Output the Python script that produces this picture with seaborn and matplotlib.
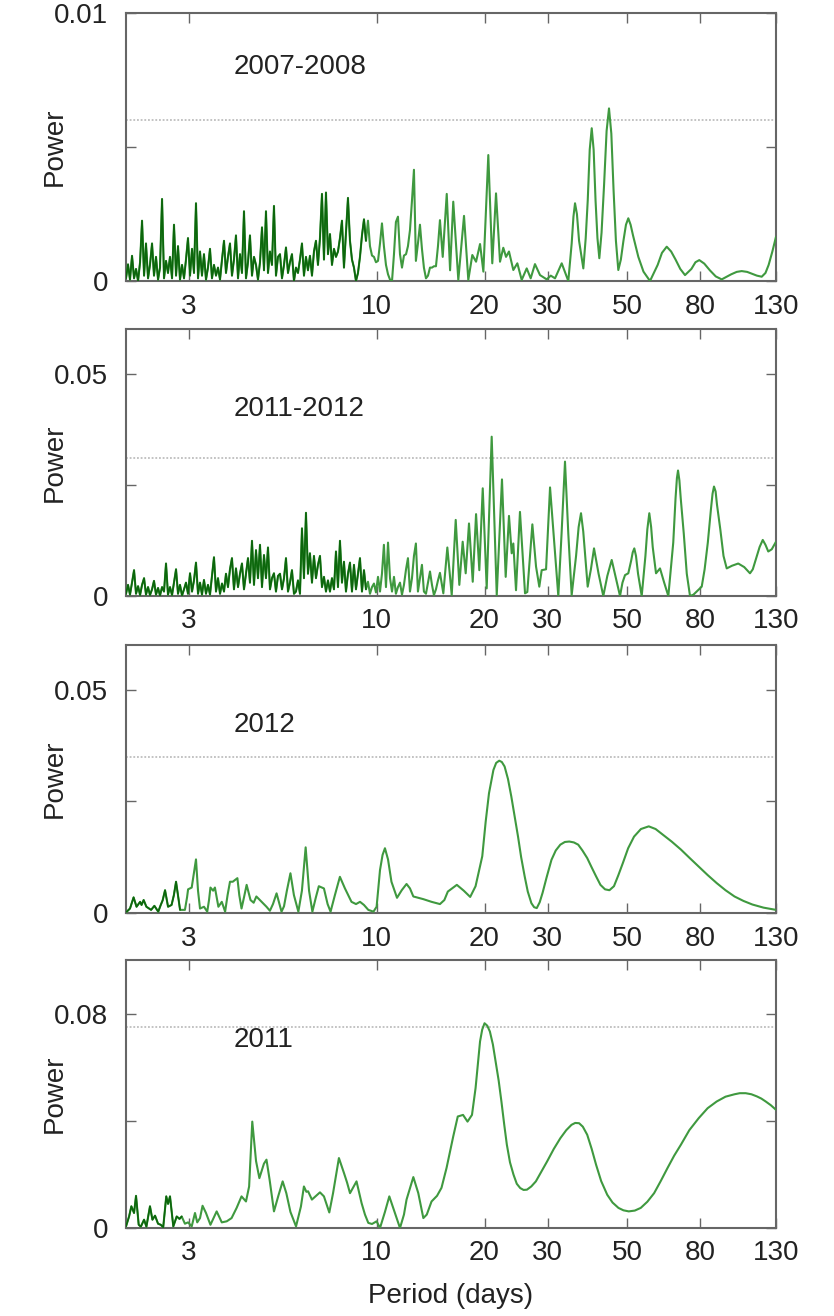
import numpy as np
import matplotlib
matplotlib.use("Agg")
import matplotlib.pyplot as plt
import matplotlib.transforms as mtransforms
from matplotlib.ticker import NullLocator
import seaborn as sns

sns.set_theme(style="ticks")
plt.rcParams["font.family"] = ["Liberation Sans", "DejaVu Sans"]

# ---------------- data (period in days, power in units of 1e-3) ----------------
grid_period = [2.000, 2.026, 2.052, 2.079, 2.106, 2.133, 2.161, 2.189, 2.217, 2.246,
               2.274, 2.304, 2.333, 2.364, 2.394, 2.425, 2.457, 2.488, 2.521, 2.553,
               2.586, 2.619, 2.653, 2.688, 2.722, 2.758, 2.793, 2.829, 2.866, 2.903,
               2.940, 2.978, 3.017, 3.056, 3.095, 3.135, 3.176, 3.217, 3.258, 3.300,
               3.343, 3.386, 3.430, 3.474, 3.519, 3.565, 3.611, 3.658, 3.705, 3.753,
               3.801, 3.850, 3.900, 3.950, 4.001, 4.053, 4.106, 4.159, 4.212, 4.267,
               4.322, 4.378, 4.434, 4.492, 4.550, 4.609, 4.668, 4.729, 4.790, 4.852,
               4.914, 4.978, 5.042, 5.107, 5.173, 5.240, 5.308, 5.377, 5.446, 5.517,
               5.588, 5.660, 5.733, 5.807, 5.882, 5.958, 6.035, 6.113, 6.192, 6.272,
               6.353, 6.435, 6.518, 6.603, 6.688, 6.774, 6.862, 6.951, 7.041, 7.132,
               7.224, 7.317, 7.412, 7.508, 7.605, 7.703, 7.803, 7.903, 8.006, 8.109,
               8.214, 8.320, 8.428, 8.537, 8.647, 8.759, 8.872, 8.987, 9.103, 9.221,
               9.340, 9.461, 9.583, 9.707, 9.832, 9.959, 10.09, 10.22, 10.35, 10.48,
               10.62, 10.76, 10.90, 11.04, 11.18, 11.32, 11.47, 11.62, 11.77, 11.92,
               12.08, 12.23, 12.39, 12.55, 12.71, 12.87, 13.04, 13.21, 13.38, 13.55,
               13.73, 13.91, 14.09, 14.27, 14.45, 14.64, 14.83, 15.02]

# Panel 1: 2007-2008
p1_dense_e3 = [0.1, 0.62, 0.05, 0.94, 0.1, 0.45, 0.0, 0.7, 2.25, 0.2,
               1.4, 0.1, 0.6, 1.4, 0.2, 0.9, 0.05, 0.5, 3.06, 0.1,
               0.75, 0.3, 0.9, 0.1, 2.1, 0.2, 1.3, 0.05, 0.6, 0.1,
               0.8, 1.6, 0.2, 1.2, 0.3, 2.9, 0.1, 1.1, 0.2, 1.0,
               0.05, 0.5, 1.2, 0.1, 0.6, 0.2, 0.5, 0.05, 0.8, 1.5,
               0.3, 0.9, 1.4, 0.2, 0.8, 1.7, 0.1, 1.0, 0.3, 2.6,
               0.1, 0.7, 1.7, 0.2, 0.9, 0.6, 0.05, 0.7, 2.0, 0.4,
               2.6, 0.3, 1.1, 0.6, 2.8, 0.2, 0.9, 1.0, 0.1, 0.6,
               1.25, 0.3, 0.7, 1.0, 0.0, 0.5, 0.3, 0.8, 1.4, 0.2,
               0.9, 0.4, 0.94, 0.2, 1.1, 1.5, 0.6, 1.6, 3.25, 0.8,
               3.3, 1.0, 1.75, 0.6, 1.2, 0.9, 1.1, 1.6, 2.25, 0.5,
               1.8, 3.1, 1.5, 0.8, 0.5, 0.0, 0.3, 0.9, 1.7, 2.3,
               1.5, 2.25, 1.3, 0.95, 0.9, 0.7, 0.75, 1.4, 2.15, 1.3,
               0.6, 0.25, 0.05, 0.0, 1.0, 2.2, 2.4, 1.0, 0.5, 0.95,
               1.0, 1.3, 1.9, 3.0, 4.15, 0.75, 1.4, 2.1, 1.2, 0.5,
               0.1, 0.2, 0.5, 0.5, 0.55, 0.55, 1.3, 2.27]
p1_tail_period = [15.29, 15.69, 16.03, 16.36, 16.90, 17.53, 18.02, 18.49, 18.94, 19.43,
                  19.85, 20.49, 21.02, 21.53, 22.09, 22.56, 22.96, 23.40, 24.06, 24.69,
                  25.39, 26.22, 26.90, 27.65, 28.56, 29.82, 30.6, 31.45, 32.83, 34.25,
                  35.0, 35.4, 35.76, 36.2, 36.7, 37.72, 38.3, 38.8, 39.3, 39.81,
                  40.3, 40.8, 41.3, 41.80, 42.4, 43.1, 43.8, 44.48, 45.15, 45.8,
                  46.5, 47.22, 48.0, 48.8, 49.6, 50.35, 51.1, 51.9, 53.70, 55.5,
                  57.88, 60.8, 62.5, 64.44, 66.3, 68.2, 70.3, 72.47, 75.5, 77.5,
                  79.43, 82.0, 85.0, 88.3, 91.73, 97.5, 101.0, 104.3, 108.0, 111.0,
                  115.0, 118.6, 121.5, 124.0, 127.0, 130.0]
p1_tail_e3 = [0.9, 3.25, 0.4, 2.96, 0.04, 2.43, 0.04, 0.97, 0.72, 1.38,
              0.35, 4.7, 0.66, 3.27, 0.72, 1.24, 0.9, 1.1, 0.41, 0.66,
              0.04, 0.47, 0.10, 0.63, 0.22, 0.06, 0.2, 0.10, 0.66, 0.0,
              1.4, 2.4, 2.9, 2.5, 1.5, 0.47, 1.6, 3.0, 4.9, 5.7,
              4.9, 3.0, 1.6, 0.85, 1.8, 3.6, 5.6, 6.44, 5.5, 3.4,
              1.5, 0.41, 0.8, 1.5, 2.1, 2.34, 2.1, 1.7, 0.9, 0.35,
              0.0, 0.6, 1.05, 1.28, 1.1, 0.8, 0.45, 0.22, 0.45, 0.7,
              0.78, 0.65, 0.4, 0.17, 0.06, 0.25, 0.34, 0.37, 0.34, 0.28,
              0.2, 0.16, 0.3, 0.6, 1.1, 1.65]

# Panel 2: 2011-2012
p2_dense_e3 = [0.5, 2.5, 0.3, 3.0, 5.8, 0.5, 2.2, 0.2, 2.5, 4.0,
               0.3, 2.0, 0.2, 1.5, 3.4, 0.3, 1.8, 0.1, 2.0, 1.0,
               7.3, 0.3, 2.0, 0.2, 3.0, 6.0, 0.5, 2.5, 0.1, 1.5,
               3.0, 0.5, 5.1, 1.0, 3.5, 7.5, 0.5, 3.0, 0.3, 3.6,
               0.5, 2.5, 0.3, 4.5, 8.7, 1.0, 4.0, 0.5, 2.8, 1.0,
               5.0, 2.0, 6.0, 8.5, 1.5, 6.2, 2.0, 5.0, 7.3, 1.5,
               5.0, 8.5, 3.0, 12.4, 2.5, 10.3, 4.0, 11.5, 2.0, 9.2,
               4.0, 10.9, 1.5, 4.0, 5.1, 1.0, 4.5, 5.0, 1.5, 4.0,
               8.5, 1.0, 3.0, 5.8, 0.5, 1.0, 3.5, 0.5, 15.2, 4.0,
               18.7, 5.0, 9.6, 3.0, 9.0, 4.0, 7.0, 9.0, 2.0, 4.3,
               1.0, 3.5, 1.0, 4.0, 1.5, 10.0, 2.0, 12.4, 3.0, 7.7,
               1.0, 5.0, 7.5, 1.0, 7.0, 1.5, 5.0, 8.5, 1.0, 5.8,
               1.5, 3.2, 0.5, 2.0, 2.8, 0.8, 4.3, 1.0, 5.0, 11.5,
               2.0, 12.0, 4.0, 1.0, 4.3, 0.5, 2.0, 3.0, 0.3, 2.5,
               6.0, 8.5, 1.0, 4.0, 9.0, 11.8, 1.0, 4.0, 7.0, 1.0,
               0.5, 3.0, 5.5, 2.5, 0.2, 1.5, 3.5, 5.2]
p2_tail_period = [15.35, 15.75, 16.20, 16.62, 17.01, 17.38, 17.72, 18.10, 18.54, 18.94,
                  19.34, 19.77, 20.28, 20.94, 21.63, 22.37, 22.91, 23.40, 23.81, 24.06,
                  24.48, 25.11, 25.94, 26.32, 27.19, 27.84, 28.43, 28.87, 29.69, 30.46,
                  31.3, 32.12, 32.8, 33.53, 34.25, 35.00, 36.0, 36.6, 37.16, 37.7,
                  38.79, 39.6, 40.40, 41.6, 42.88, 44.0, 45.26, 46.5, 47.74, 48.5,
                  49.30, 50.35, 51.3, 51.8, 52.33, 52.9, 53.6, 54.88, 56.2, 56.9,
                  57.62, 58.3, 58.9, 60.16, 61.72, 63.4, 65.11, 67.2, 68.2, 68.8,
                  69.29, 69.9, 70.5, 71.9, 73.3, 74.84, 76.5, 78.13, 80.68, 82.2,
                  83.9, 85.6, 86.5, 87.3, 88.2, 89.0, 90.9, 92.8, 94.73, 98.0,
                  102.0, 106.0, 110.0, 112.0, 114.5, 117.0, 119.4, 121.5, 123.7, 126.5,
                  130.0]
p2_tail_e3 = [0.6, 10.9, 0.2, 17.1, 2.5, 12.2, 5.1, 16.3, 3.2, 18.4,
              5.8, 24.2, 1.7, 35.8, 0.2, 26.2, 4.3, 18.0, 9.6, 11.8,
              1.3, 18.9, 0.6, 0.9, 16.1, 6.6, 2.1, 5.8, 6.0, 24.4,
              12.0, 0.0, 14.0, 30.2, 14.0, 0.2, 9.0, 15.5, 18.6, 14.5,
              2.1, 6.0, 10.7, 5.0, 0.0, 4.5, 8.1, 4.0, 0.0, 3.0,
              4.7, 5.1, 8.0, 9.8, 10.7, 9.0, 5.0, 0.0, 9.0, 15.0,
              18.6, 15.5, 11.0, 5.1, 6.2, 3.0, 0.0, 12.0, 22.0, 26.5,
              28.2, 26.0, 22.0, 14.0, 5.0, 0.0, 0.3, 1.0, 2.1, 6.0,
              12.0, 19.5, 23.0, 24.6, 23.5, 20.5, 15.0, 9.0, 6.2, 6.8,
              7.3, 6.5, 5.1, 6.0, 8.5, 11.0, 12.6, 11.5, 10.0, 10.5,
              12.2]

# Panel 3: 2012
p3_period = [2.01, 2.052, 2.10, 2.14, 2.19, 2.21, 2.24, 2.28, 2.35, 2.40,
             2.46, 2.50, 2.53, 2.57, 2.62, 2.68, 2.72, 2.758, 2.81, 2.83,
             2.92, 2.96, 2.98, 3.05, 3.095, 3.135, 3.176, 3.217, 3.30, 3.37,
             3.41, 3.44, 3.50, 3.54, 3.62, 3.70, 3.78, 3.84, 3.90, 3.97,
             4.03, 4.09, 4.14, 4.20, 4.267, 4.34, 4.45, 4.54, 4.62, 4.78,
             4.93, 5.04, 5.14, 5.26, 5.43, 5.517, 5.62, 5.75, 5.88, 6.05,
             6.19, 6.34, 6.48, 6.62, 6.77, 6.90, 7.13, 7.30, 7.44, 7.65,
             7.90, 8.16, 8.51, 8.76, 8.99, 9.22, 9.48, 9.80, 10.0, 10.22,
             10.39, 10.55, 10.76, 11.00, 11.40, 11.75, 12.12, 12.39, 12.66, 13.50,
             14.23, 15.02, 15.45, 15.8, 16.74, 17.5, 18.24, 18.88, 19.71, 20.15,
             20.58, 21.17, 21.55, 21.98, 22.35, 22.75, 23.25, 23.75, 24.25, 24.80,
             25.3, 25.88, 26.4, 27.02, 27.5, 27.97, 28.5, 29.03, 29.8, 30.74,
             31.6, 32.54, 33.5, 34.46, 35.5, 36.50, 37.5, 38.67, 39.8, 40.94,
             42.1, 43.36, 44.6, 45.92, 47.2, 48.63, 50.3, 52.24, 54.6, 57.41,
             60.0, 62.93, 66.5, 70.60, 74.7, 79.15, 83.8, 88.81, 94.0, 99.59,
             105.5, 111.7, 120.0, 130.0]
p3_power_e3 = [0.3, 1.0, 3.5, 1.4, 2.5, 1.8, 2.9, 1.4, 0.7, 1.6,
               0.3, 1.8, 2.8, 5.1, 1.4, 1.8, 4.0, 7.0, 2.5, 0.7,
               0.7, 3.5, 5.3, 5.7, 9.0, 12.0, 5.0, 1.0, 1.4, 0.3,
               3.0, 5.7, 5.0, 5.7, 1.4, 2.5, 0.3, 4.0, 7.0, 7.0,
               7.4, 7.8, 4.0, 1.0, 3.5, 6.3, 2.9, 2.3, 3.7, 2.5,
               1.4, 0.5, 2.0, 4.4, 0.3, 1.5, 5.0, 8.9, 4.0, 0.3,
               5.0, 14.7, 5.0, 0.3, 3.5, 6.0, 5.5, 2.0, 0.3, 4.0,
               8.1, 5.5, 2.5, 2.0, 2.5, 1.8, 0.7, 0.3, 1.4, 9.6,
               13.0, 14.5, 12.0, 7.0, 3.4, 5.1, 6.5, 5.5, 3.7, 3.1,
               2.5, 2.0, 2.9, 4.8, 6.3, 5.0, 3.6, 6.0, 12.7, 20.5,
               26.8, 32.0, 33.6, 34.1, 33.8, 32.8, 30.0, 26.1, 21.8, 17.1,
               12.5, 8.2, 4.8, 2.2, 1.3, 1.1, 2.4, 4.5, 8.0, 11.9,
               14.0, 15.3, 15.9, 16.0, 15.8, 15.3, 14.0, 12.3, 10.2, 8.2,
               6.3, 5.3, 5.1, 6.0, 8.4, 11.2, 14.5, 17.1, 18.8, 19.4,
               18.8, 17.5, 16.0, 14.2, 12.3, 10.4, 8.5, 6.7, 5.1, 3.7,
               2.7, 1.9, 1.2, 0.7]

# Panel 4: 2011
p4_period = [2.00, 2.04, 2.07, 2.106, 2.133, 2.17, 2.20, 2.246, 2.28, 2.333,
             2.37, 2.41, 2.457, 2.50, 2.54, 2.59, 2.62, 2.653, 2.71, 2.77,
             2.82, 2.86, 2.92, 2.98, 3.05, 3.115, 3.16, 3.217, 3.27, 3.343,
             3.44, 3.58, 3.70, 3.82, 3.94, 4.07, 4.20, 4.322, 4.41, 4.50,
             4.61, 4.71, 4.85, 4.93, 5.03, 5.173, 5.32, 5.47, 5.60, 5.75,
             5.96, 6.15, 6.27, 6.37, 6.44, 6.60, 6.95, 7.13, 7.38, 7.56,
             7.85, 8.11, 8.27, 8.43, 8.79, 9.08, 9.28, 9.48, 9.71, 10.0,
             10.22, 10.55, 10.85, 11.25, 11.62, 11.92, 12.12, 12.66, 13.07, 13.50,
             13.80, 14.23, 14.74, 15.17, 15.67, 16.36, 16.84, 17.42, 17.93, 18.45,
             18.88, 19.43, 19.7, 20.00, 20.35, 20.70, 21.1, 21.48, 21.9, 22.29,
             22.7, 23.08, 23.55, 24.09, 24.6, 25.15, 25.7, 26.26, 27.0, 27.81,
             28.8, 29.88, 31.2, 32.54, 33.8, 34.96, 35.8, 36.71, 37.6, 38.67,
             39.8, 40.94, 42.3, 43.98, 45.5, 47.26, 48.8, 50.49, 52.5, 54.54,
             56.9, 59.43, 62.0, 64.78, 67.6, 70.60, 74.5, 79.15, 83.8, 88.81,
             94.0, 99.59, 103.0, 107.0, 111.0, 115.0, 118.3, 121.7, 125.8, 130.0]
p4_power_e3 = [0.6, 4.3, 8.1, 5.6, 12.0, 1.2, 0.5, 3.1, 0.5, 8.1,
               3.1, 4.6, 1.6, 1.2, 0.3, 11.8, 9.0, 11.8, 0.6, 4.3,
               3.4, 4.3, 1.6, 2.1, 0.6, 5.6, 2.1, 3.7, 8.3, 5.6,
               1.2, 6.2, 2.1, 2.5, 3.7, 7.5, 11.8, 9.9, 15.5, 39.7,
               25.0, 18.6, 24.0, 25.5, 18.0, 6.2, 12.0, 17.4, 13.0, 6.0,
               0.6, 8.0, 15.5, 13.5, 13.7, 10.6, 13.3, 11.8, 5.8, 13.0,
               26.1, 20.5, 17.0, 13.0, 17.4, 9.3, 5.0, 1.9, 1.5, 2.5,
               0.0, 6.0, 11.8, 5.6, 0.0, 5.0, 10.6, 19.0, 13.0, 3.7,
               5.0, 9.9, 12.0, 15.0, 22.4, 34.2, 41.6, 42.2, 39.7, 42.2,
               52.2, 69.6, 74.0, 76.4, 75.5, 73.3, 68.5, 62.1, 55.0, 47.2,
               38.5, 31.1, 24.5, 19.9, 16.5, 14.9, 14.2, 14.3, 15.5, 17.4,
               21.0, 24.8, 29.5, 33.5, 36.5, 38.5, 39.2, 39.1, 37.8, 34.8,
               29.5, 23.6, 17.5, 12.4, 9.5, 7.5, 6.6, 6.2, 6.5, 7.5,
               9.8, 13.0, 17.5, 22.4, 27.0, 31.1, 36.5, 41.0, 44.7, 47.2,
               49.0, 49.9, 50.3, 50.3, 49.9, 49.1, 48.3, 47.2, 45.8, 44.1]

panel_labels = ["2007-2008", "2011-2012", "2012", "2011"]
signif_levels = [0.0060, 0.0309, 0.0350, 0.0751]
y_max = [0.01, 0.06, 0.06, 0.10]
y_ticks = [[0, 0.005, 0.01], [0, 0.025, 0.05], [0, 0.025, 0.05], [0, 0.04, 0.08]]
y_ticklabels = [["0", "", "0.01"], ["0", "", "0.05"], ["0", "", "0.05"], ["0", "", "0.08"]]
x_ticks = [3, 10, 20, 30, 50, 80, 130]
x_ticklabels = ["3", "10", "20", "30", "50", "80", "130"]
dense_limit = [9.4, 9.4, 2.9, 2.9]

series = [
    (grid_period + p1_tail_period, p1_dense_e3 + p1_tail_e3),
    (grid_period + p2_tail_period, p2_dense_e3 + p2_tail_e3),
    (p3_period, p3_power_e3),
    (p4_period, p4_power_e3),
]

# ---------------- figure ----------------
fig = plt.figure(figsize=(8.34, 13.16), dpi=100)
W, H = 834.0, 1316.0
left_px, right_px = 126, 776
tops = [13, 329, 645, 960]
bottoms = [281, 596, 913, 1228]

light = "#3f993f"
dark = "#0c660c"
frame = "#666666"
txt = "#222222"

for k in range(4):
    ax = fig.add_axes([left_px / W, 1 - bottoms[k] / H,
                       (right_px - left_px) / W, (bottoms[k] - tops[k]) / H])
    per = np.array(series[k][0], dtype=float)
    pw = np.array(series[k][1], dtype=float) * 1e-3
    n = min(len(per), len(pw))
    per, pw = per[:n], pw[:n]

    ax.axhline(signif_levels[k], color="#b3b3b3", lw=1.1, ls=(0, (1.2, 1.2)), zorder=1)
    sns.lineplot(x=per, y=pw, ax=ax, color=light, lw=1.5,
                 estimator=None, sort=False, errorbar=None, zorder=3)
    m = per <= dense_limit[k]
    sns.lineplot(x=per[m], y=pw[m], ax=ax, color=dark, lw=1.2,
                 estimator=None, sort=False, errorbar=None, zorder=4)

    ax.set_xscale("log")
    ax.set_xlim(2, 130)
    ax.set_ylim(0, y_max[k])
    ax.set_xticks(x_ticks)
    ax.set_xticklabels(x_ticklabels)
    ax.xaxis.set_minor_locator(NullLocator())
    ax.set_yticks(y_ticks[k])
    ax.set_yticklabels(y_ticklabels[k])
    ax.yaxis.set_minor_locator(NullLocator())
    ax.tick_params(axis="both", which="both", direction="in", top=True, right=True,
                   length=7, width=1.0, color=frame, labelsize=20, labelcolor=txt)
    ax.tick_params(axis="x", pad=9)
    ax.tick_params(axis="y", pad=13)
    for s in ax.spines.values():
        s.set_visible(True)
        s.set_color(frame)
        s.set_linewidth(1.5)

    ax.set_ylabel("Power", fontsize=20, color=txt)
    ax.yaxis.set_label_coords(-0.089, 0.5)
    if k == 3:
        ax.set_xlabel("Period (days)", fontsize=20, color=txt)
        ax.xaxis.set_label_coords(0.5, -0.205)
    else:
        ax.set_xlabel("")

    trans = mtransforms.blended_transform_factory(ax.transData, ax.transAxes)
    ypos = 0.80 if k == 0 else 0.70
    ax.text(4.0, ypos, panel_labels[k], transform=trans, ha="left", va="center",
            fontsize=20, color=txt)

fig.savefig("out.png", dpi=100)
